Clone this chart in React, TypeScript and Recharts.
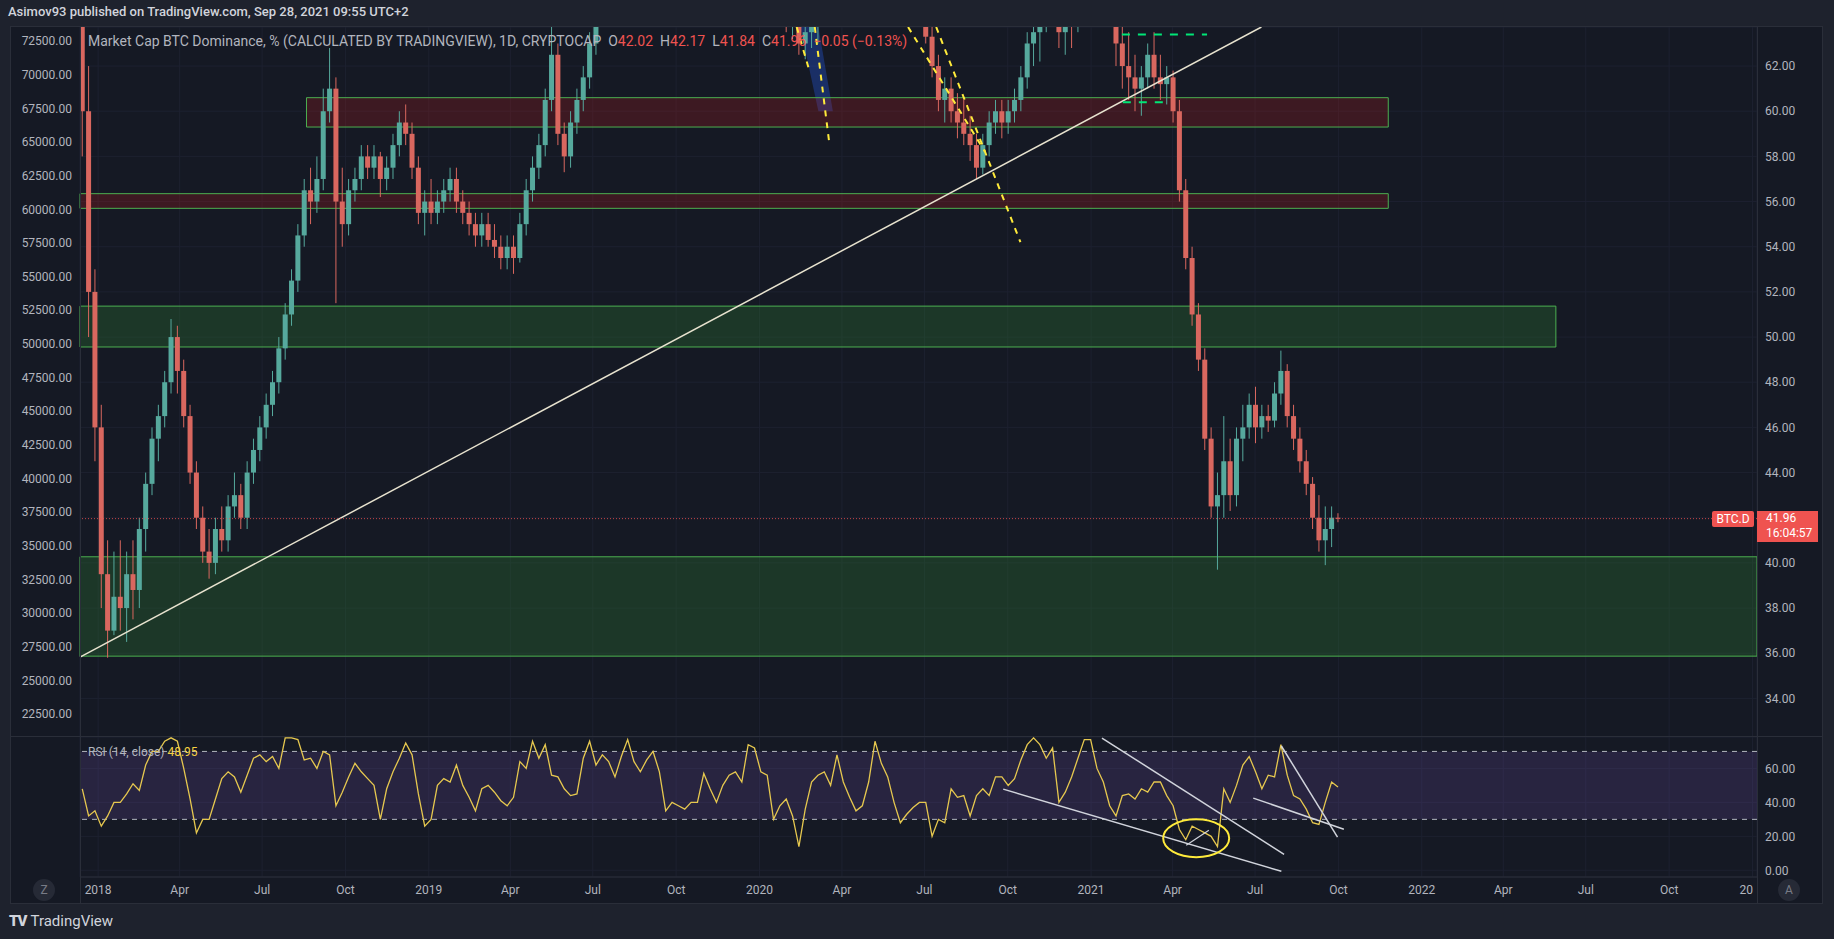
import React from "react";
import {
  ComposedChart,
  Bar,
  Area,
  Line,
  XAxis,
  YAxis,
  CartesianGrid,
  ReferenceArea,
  ReferenceLine,
  ReferenceDot,
} from "recharts";

const FONT = "Roboto, 'Liberation Sans', sans-serif";
const PAGE = "#1e222d";
const BG = "#151924";
const BORDER = "#2a2e39";
const GRID = "#1d2130";
const TEXT = "#b2b5be";
const UP = "#56a99d";
const DOWN = "#d9675f";
const RED = "#ef5350";
const BODY_W = 5;

// days counted from 1 Jan 2018; weekly candles start Mon 11 Dec 2017
const FIRST_WEEK_DAY = -21;
const X_DOMAIN = [-20, 1831];

const MONTH_DAYS = [0, 90, 181, 273, 365, 455, 546, 638, 730, 821, 912, 1004, 1096, 1186, 1277, 1369, 1461, 1551, 1642, 1734, 1826];
const MONTH_LABELS = ["2018", "Apr", "Jul", "Oct", "2019", "Apr", "Jul", "Oct", "2020", "Apr", "Jul", "Oct", "2021", "Apr", "Jul", "Oct", "2022", "Apr", "Jul", "Oct", "2023"];

const LEFT_TICKS = [22500, 25000, 27500, 30000, 32500, 35000, 37500, 40000, 42500, 45000, 47500, 50000, 52500, 55000, 57500, 60000, 62500, 65000, 67500, 70000, 72500];
const RIGHT_TICKS = [34, 36, 38, 40, 42, 44, 46, 48, 50, 52, 54, 56, 58, 60, 62];
const RSI_TICKS = [0, 20, 40, 60];

// BTC dominance, weekly OHLC
const OPEN = [
  64.5, 60, 52, 46, 39.5, 37, 38.5, 38, 39.5, 38.8, 41.5, 43.5, 45.5, 46.5, 48, 50, 48.5, 46.5, 44, 42,
  40.5, 40, 41.5, 41, 42.5, 43, 42, 44, 45, 46, 47, 48, 49.5, 51, 52.5, 54.5, 56.5, 56, 57, 60,
  61, 56, 55, 56.5, 57, 58, 57.5, 58, 57, 57.5, 58.5, 59.5, 59, 57.5, 55.5, 56, 55.5, 56, 56.5, 57,
  56, 55.5, 55, 54.5, 55, 54.3, 54, 53.5, 54, 53.5, 55, 56.5, 57.5, 58.5, 60.5, 62.5, 59, 58, 59.5, 60.5,
  61.5, 63, 65, 66, 67, 68, 67.5, 68.5, 69, 70, 69.5, 70, 70.5, 70, 69, 68.5, 68, 68.5, 67.5, 67,
  67.5, 68, 68, 68.5, 69, 69, 68.5, 68, 67.5, 66.5, 65.5, 65, 64, 64.5, 63, 63.5, 63.8, 65.5, 66.5, 67,
  66.5, 66, 66.5, 67.5, 68, 67.5, 66.5, 66, 65.5, 65.5, 65.8, 65.5, 65, 64.5, 63.3, 62, 60.5, 61, 60, 59.5,
  59, 58.5, 57.5, 58.5, 59.5, 60, 59.5, 60, 60.5, 61.5, 63, 63.5, 63.8, 65.5, 65, 63.5, 64, 63.8, 65.5, 66.5,
  67, 67.5, 66, 64.5, 63, 62, 61.5, 61, 61.5, 62.5, 61.5, 61.2, 61.5, 60, 56.5, 53.5, 51, 49, 45.5, 42.5,
  43, 44.5, 43, 45.5, 46, 47, 46, 46.5, 46.3, 47.5, 48.5, 46.5, 45.5, 44.5, 43.5, 42, 41, 41.5, 42,
];
const HIGH = [
  65.5, 62, 53, 47, 41, 40.5, 41, 40.5, 41, 42, 44, 46, 47, 48.5, 50.8, 50.5, 49, 47, 44.5, 42.5,
  41.5, 42, 42.5, 43, 44, 43.5, 44.5, 45.5, 46.5, 47.5, 48.5, 50, 51.5, 53, 55, 57, 57.5, 58, 61, 62.8,
  61.5, 57.5, 57, 57.5, 58.5, 58.5, 58.5, 58.2, 58, 59, 60, 60.3, 59.5, 58, 56.5, 57, 56.5, 57, 57.5, 57.5,
  56.5, 56, 55.5, 55.5, 55.5, 55, 54.5, 54.5, 54.5, 55.5, 57, 58, 59, 61, 64, 63, 59.5, 60, 61, 62,
  63.5, 66, 66.5, 67.5, 68.5, 68.5, 69, 69.5, 70.5, 70.5, 70.5, 71, 71, 70.5, 69.5, 69, 69, 69, 68, 68,
  68.5, 68.5, 69, 69.5, 69.5, 69.5, 69, 68.5, 68, 67, 66, 65.5, 65, 65, 64, 64, 66, 67, 67.5, 67.5,
  67, 67, 68, 68.5, 68.5, 68, 67, 66.5, 66, 66.5, 66.5, 66, 65.5, 65, 63.8, 62.5, 61.5, 61.5, 60.8, 60.5,
  59.8, 59, 59, 60, 60.5, 60.5, 60.5, 61, 62, 63.5, 64.5, 64, 66, 66, 65.5, 64.5, 64.5, 66, 67, 67.5,
  68, 68, 66.5, 65, 64, 63.5, 62.5, 62, 63, 63.5, 62.5, 62, 61.8, 60.5, 57, 54, 51.5, 49.5, 46, 44,
  46.5, 45.5, 46, 47, 47.5, 47.8, 47, 47, 48, 49.4, 48.8, 47, 46, 45, 43.8, 43, 42.5, 42.5, 42.2,
];
const LOW = [
  58, 50, 44.5, 38, 35.8, 36.8, 37, 36.5, 37.5, 38, 40.5, 43, 44.5, 46, 47.5, 47.5, 46, 43.5, 41.5, 40,
  39.3, 39.5, 40.5, 40.5, 42, 41.5, 41.5, 43.5, 44.5, 45.5, 46.5, 47.5, 49, 50.5, 52, 54, 55, 55.5, 56.5, 59.5,
  51.5, 54, 54.5, 56, 56.5, 57, 57, 56.2, 56.5, 57, 58, 58.5, 57, 55, 54.5, 55, 55, 55.5, 56, 55.5,
  55, 54.5, 54, 54, 54, 53.5, 53, 53, 52.8, 53.3, 54.5, 56, 57, 58, 60, 58.5, 57.3, 57.5, 59, 60,
  61, 62.5, 64.5, 65.5, 66.5, 67, 67, 68, 68.5, 69, 69, 69.5, 69.5, 68.5, 68, 67.5, 67.5, 67, 66.5, 66.5,
  67, 67.5, 67.5, 68, 68.5, 68, 67.5, 67, 66, 65, 64.5, 63.5, 63.2, 62.5, 62.3, 62.8, 63, 65, 66, 66,
  65.5, 65.5, 66, 67, 67, 66, 65.5, 65, 65, 65, 65, 64.5, 64, 63, 61.5, 60, 59.5, 59.5, 58.8, 58.5,
  57.8, 57, 57.2, 58, 59, 58.8, 59, 59.5, 60, 61, 62, 62.2, 63.5, 64.5, 62.8, 62.5, 62.8, 63.5, 65, 66,
  66.5, 65.5, 64, 62, 61, 60.5, 60, 59.8, 61, 61, 60.5, 60.3, 59.5, 56, 53, 50.5, 48.5, 45, 42, 39.7,
  42, 42.3, 42.5, 44.5, 45.5, 45.3, 45.5, 45.8, 46, 47, 46, 45, 44, 43, 41.5, 40.5, 39.9, 40.7, 41.8,
];
const CLOSE = [
  60, 52, 46, 39.5, 37, 38.5, 38, 39.5, 38.8, 41.5, 43.5, 45.5, 46.5, 48, 50, 48.5, 46.5, 44, 42, 40.5,
  40, 41.5, 41, 42.5, 43, 42, 44, 45, 46, 47, 48, 49.5, 51, 52.5, 54.5, 56.5, 56, 57, 60, 61,
  56, 55, 56.5, 57, 58, 57.5, 58, 57, 57.5, 58.5, 59.5, 59, 57.5, 55.5, 56, 55.5, 56, 56.5, 57, 56,
  55.5, 55, 54.5, 55, 54.3, 54, 53.5, 54, 53.5, 55, 56.5, 57.5, 58.5, 60.5, 62.5, 59, 58, 59.5, 60.5, 61.5,
  63, 65, 66, 67, 68, 67.5, 68.5, 69, 70, 69.5, 70, 70.5, 70, 69, 68.5, 68, 68.5, 67.5, 67, 67.5,
  68, 68, 68.5, 69, 69, 68.5, 68, 67.5, 66.5, 65.5, 65, 64, 64.5, 63, 63.5, 63.8, 65.5, 66.5, 67, 66.5,
  66, 66.5, 67.5, 68, 67.5, 66.5, 66, 65.5, 65.5, 65.8, 65.5, 65, 64.5, 63.3, 62, 60.5, 61, 60, 59.5, 59,
  58.5, 57.5, 58.5, 59.5, 60, 59.5, 60, 60.5, 61.5, 63, 63.5, 63.8, 65.5, 65, 63.5, 64, 63.8, 65.5, 66.5, 67,
  67.5, 66, 64.5, 63, 62, 61.5, 61, 61.5, 62.5, 61.5, 61.2, 61.5, 60, 56.5, 53.5, 51, 49, 45.5, 42.5, 43,
  44.5, 43, 45.5, 46, 47, 46, 46.5, 46.3, 47.5, 48.5, 46.5, 45.5, 44.5, 43.5, 42, 41, 41.5, 42, 41.96,
];
// RSI(14), one reading per week
const RSI = [
  48, 32, 35, 26, 32, 40, 40, 45, 51, 47, 62, 70, 70, 76, 78, 76, 60, 42, 22, 30,
  30, 42, 54, 58, 55, 46, 56, 66, 68, 64, 67, 60, 78, 78, 77, 65, 66, 60, 70, 68,
  38, 46, 55, 63, 58, 54, 50, 30, 48, 58, 66, 75, 68, 45, 26, 30, 50, 54, 52, 62,
  50, 43, 35, 48, 50, 46, 41, 38, 43, 64, 60, 76, 66, 74, 56, 55, 48, 44, 45, 66,
  76, 62, 68, 64, 55, 67, 77, 64, 58, 65, 70, 58, 35, 40, 38, 36, 40, 40, 57, 48,
  40, 50, 56, 58, 52, 74, 72, 58, 56, 30, 38, 42, 32, 14, 36, 52, 56, 58, 50, 68,
  52, 43, 35, 38, 52, 76, 63, 55, 40, 28, 33, 37, 40, 40, 20, 30, 28, 48, 43, 44,
  32, 44, 48, 44, 55, 55, 50, 54, 65, 74, 78, 74, 66, 72, 40, 46, 55, 66, 77, 77,
  60, 52, 38, 32, 44, 45, 42, 48, 46, 52, 52, 44, 38, 24, 18, 26, 24, 22, 20, 14,
  48, 40, 50, 62, 67, 58, 48, 56, 55, 74, 56, 44, 42, 36, 28, 27, 40, 52, 49,
];

// shaded channel between the Feb 2020 dashed lines
const CHANNEL_DAYS = [775, 795, 811];
const CHANNEL_LOW = [63.73, 60.0, 60.0];
const CHANNEL_HIGH = [63.73, 63.73, 60.0];

const weeks = OPEN.map((o, i) => ({
  x: FIRST_WEEK_DAY + 7 * i + 3.5,
  o,
  h: HIGH[i],
  l: LOW[i],
  c: CLOSE[i],
  range: [LOW[i], HIGH[i]],
  rsi: RSI[i],
}));

const channel = CHANNEL_DAYS.map((x, i) => ({ x, band: [CHANNEL_LOW[i], CHANNEL_HIGH[i]] }));

const Candle = (p: any) => {
  const { x, y, width, height, payload } = p;
  if (!payload || payload.o == null || !isFinite(y) || !isFinite(height)) return null;
  const { o, h, l, c } = payload;
  const span = h - l || 1;
  const yv = (v: number) => y + ((h - v) / span) * height;
  const col = c >= o ? UP : DOWN;
  const top = yv(Math.max(o, c));
  const bot = yv(Math.min(o, c));
  const cx = x + width / 2;
  return (
    <g>
      <line x1={cx} x2={cx} y1={y} y2={y + height} stroke={col} strokeWidth={1} />
      <rect x={cx - BODY_W / 2} y={top} width={BODY_W} height={Math.max(1, bot - top)} fill={col} />
    </g>
  );
};

const MonthTick = (p: any) => {
  const { x, y, payload } = p;
  const idx = MONTH_DAYS.indexOf(payload.value);
  const label = MONTH_LABELS[idx];
  if (label === "2023") {
    return (
      <text x={x - 13} y={y} dy={9} textAnchor="start" fill={TEXT} fontSize={12} fontFamily={FONT}>20</text>
    );
  }
  return (
    <text x={x} y={y} dy={9} textAnchor="middle" fill={TEXT} fontSize={12} fontFamily={FONT}>{label}</text>
  );
};

const tickStyle = { fill: TEXT, fontSize: 12, fontFamily: FONT };

const lineDiv = (style: React.CSSProperties) => (
  <div style={{ position: "absolute", background: BORDER, ...style }} />
);

const ohlc = (k: string, v: string) => (
  <span style={{ marginLeft: 7 }}>
    {k}<span style={{ color: RED }}>{v}</span>
  </span>
);

export default function App() {
  return (
    <div style={{ position: "absolute", left: 0, top: 0, width: 1834, height: 939, background: PAGE, overflow: "hidden", fontFamily: FONT }}>
      <div style={{ position: "absolute", left: 8, top: 4, fontSize: 13, fontWeight: 500, color: "#d1d4dc", whiteSpace: "nowrap" }}>
        Asimov93 published on TradingView.com, Sep 28, 2021 09:55 UTC+2
      </div>

      <div style={{ position: "absolute", left: 10, top: 27, width: 1813, height: 876, background: BG }} />

      {/* price panel */}
      <div style={{ position: "absolute", left: 10, top: 27 }}>
        <ComposedChart width={1813} height={710} data={weeks} margin={{ top: 0, right: 0, bottom: 0, left: 0 }}>
          <CartesianGrid yAxisId="r" stroke={GRID} />
          <XAxis type="number" dataKey="x" domain={X_DOMAIN} ticks={MONTH_DAYS} allowDataOverflow hide />
          <YAxis yAxisId="l" orientation="left" width={70} domain={[20791, 73540]} ticks={LEFT_TICKS} interval={0}
            allowDataOverflow axisLine={false} tickLine={false} tick={tickStyle} tickFormatter={(v: number) => v.toFixed(2)} />
          <YAxis yAxisId="r" orientation="right" width={66} domain={[32.29, 63.73]} ticks={RIGHT_TICKS} interval={0}
            allowDataOverflow axisLine={false} tickLine={false} tick={tickStyle} tickFormatter={(v: number) => v.toFixed(2)} />

          <Bar yAxisId="r" dataKey="range" barSize={5} isAnimationActive={false} shape={(p: any) => <Candle {...p} />} />

          <Area yAxisId="r" data={channel} dataKey="band" type="linear" stroke="none" fill="#2962ff" fillOpacity={0.3} isAnimationActive={false} />

          <ReferenceArea yAxisId="r" x1={230} x2={1424} y1={59.3} y2={60.6} fill="#b71c1c" fillOpacity={0.25} stroke="#4caf50" strokeWidth={1} />
          <ReferenceArea yAxisId="r" x1={-20} x2={1424} y1={55.7} y2={56.35} fill="#b71c1c" fillOpacity={0.25} stroke="#4caf50" strokeWidth={1} />
          <ReferenceArea yAxisId="r" x1={-20} x2={1609} y1={49.56} y2={51.37} fill="#2e7d32" fillOpacity={0.3} stroke="#4caf50" strokeWidth={1} />
          <ReferenceArea yAxisId="r" x1={-20} x2={1831} y1={35.87} y2={40.27} fill="#2e7d32" fillOpacity={0.3} stroke="#4caf50" strokeWidth={1} />

          <ReferenceLine yAxisId="r" segment={[{ x: -20, y: 35.83 }, { x: 1284, y: 63.73 }]} stroke="#e8e3cf" strokeWidth={1.5} />

          <ReferenceLine yAxisId="r" segment={[{ x: 771, y: 63.73 }, { x: 785, y: 61.8 }]} stroke="#ffeb3b" strokeWidth={2} strokeDasharray="6 6" />
          <ReferenceLine yAxisId="r" segment={[{ x: 791, y: 63.73 }, { x: 807, y: 58.6 }]} stroke="#ffeb3b" strokeWidth={2} strokeDasharray="6 6" />
          <ReferenceLine yAxisId="r" segment={[{ x: 894, y: 63.73 }, { x: 979, y: 58.2 }]} stroke="#ffeb3b" strokeWidth={2} strokeDasharray="6 6" />
          <ReferenceLine yAxisId="r" segment={[{ x: 925, y: 63.73 }, { x: 1018, y: 54.2 }]} stroke="#ffeb3b" strokeWidth={2} strokeDasharray="6 6" />

          <ReferenceLine yAxisId="r" segment={[{ x: 1130, y: 63.4 }, { x: 1224, y: 63.4 }]} stroke="#00e676" strokeWidth={2} strokeDasharray="8 8" />
          <ReferenceLine yAxisId="r" segment={[{ x: 1131, y: 60.4 }, { x: 1183, y: 60.4 }]} stroke="#00e676" strokeWidth={2} strokeDasharray="8 8" />

          <ReferenceLine yAxisId="r" y={41.96} stroke={RED} strokeDasharray="1 2" strokeOpacity={0.8} />
        </ComposedChart>
      </div>

      {/* RSI panel + time axis */}
      <div style={{ position: "absolute", left: 10, top: 737 }}>
        <ComposedChart width={1813} height={166} data={weeks} margin={{ top: 0, right: 0, bottom: 0, left: 0 }}>
          <CartesianGrid yAxisId="r" stroke={GRID} />
          <XAxis type="number" dataKey="x" domain={X_DOMAIN} ticks={MONTH_DAYS} interval={0} allowDataOverflow height={26}
            axisLine={{ stroke: BORDER }} tickLine={false} tick={<MonthTick />} />
          <YAxis yAxisId="l" orientation="left" width={70} domain={[0, 1]} tick={false} axisLine={false} tickLine={false} />
          <YAxis yAxisId="r" orientation="right" width={66} domain={[-3.95, 78.5]} ticks={RSI_TICKS} interval={0}
            allowDataOverflow axisLine={false} tickLine={false} tick={tickStyle} tickFormatter={(v: number) => v.toFixed(2)} />

          <ReferenceArea yAxisId="r" y1={30} y2={70} fill="#7e57c2" fillOpacity={0.18} />
          <ReferenceLine yAxisId="r" y={70} stroke="#b2b5be" strokeDasharray="5 5" />
          <ReferenceLine yAxisId="r" y={30} stroke="#b2b5be" strokeDasharray="5 5" />

          <Line yAxisId="r" dataKey="rsi" stroke="#e6c84f" strokeWidth={1.3} dot={false} isAnimationActive={false} />

          <ReferenceLine yAxisId="r" segment={[{ x: 999, y: 47.8 }, { x: 1306, y: -0.6 }]} stroke="#d1d4dc" strokeWidth={1.5} />
          <ReferenceLine yAxisId="r" segment={[{ x: 1108, y: 77.9 }, { x: 1309, y: 9.4 }]} stroke="#d1d4dc" strokeWidth={1.5} />
          <ReferenceLine yAxisId="r" segment={[{ x: 1275, y: 42.5 }, { x: 1375, y: 24.2 }]} stroke="#d1d4dc" strokeWidth={1.5} />
          <ReferenceLine yAxisId="r" segment={[{ x: 1306, y: 73.2 }, { x: 1368, y: 19.5 }]} stroke="#d1d4dc" strokeWidth={1.5} />
          <ReferenceLine yAxisId="r" segment={[{ x: 1201, y: 14.7 }, { x: 1226, y: 23.6 }]} stroke="#d1d4dc" strokeWidth={1.2} />
          <ReferenceDot yAxisId="r" x={1212} y={18.9} r={1}
            shape={(p: any) => <ellipse cx={p.cx} cy={p.cy} rx={33} ry={19} fill="none" stroke="#ffeb3b" strokeWidth={2} />} />
        </ComposedChart>
      </div>

      {/* panel borders */}
      {lineDiv({ left: 10, top: 26, width: 1813, height: 1 })}
      {lineDiv({ left: 10, top: 903, width: 1813, height: 1 })}
      {lineDiv({ left: 10, top: 26, width: 1, height: 878 })}
      {lineDiv({ left: 1822, top: 26, width: 1, height: 878 })}
      {lineDiv({ left: 80, top: 26, width: 1, height: 878 })}
      {lineDiv({ left: 1757, top: 26, width: 1, height: 878 })}
      {lineDiv({ left: 10, top: 736, width: 1813, height: 1 })}

      {/* legends */}
      <div style={{ position: "absolute", left: 88, top: 33, fontSize: 14, color: TEXT, whiteSpace: "nowrap" }}>
        Market Cap BTC Dominance, % (CALCULATED BY TRADINGVIEW), 1D, CRYPTOCAP
        {ohlc("O", "42.02")}
        {ohlc("H", "42.17")}
        {ohlc("L", "41.84")}
        {ohlc("C", "41.96")}
        <span style={{ marginLeft: 7, color: RED }}>−0.05 (−0.13%)</span>
      </div>
      <div style={{ position: "absolute", left: 88, top: 745, fontSize: 12, color: TEXT, whiteSpace: "nowrap" }}>
        RSI (14, close) <span style={{ color: "#f5d142" }}>48.95</span>
      </div>

      {/* last price tags */}
      <div style={{ position: "absolute", left: 1712, top: 511, width: 42, height: 16, background: RED, color: "#fff", fontSize: 12, lineHeight: "16px", textAlign: "center", borderRadius: 2 }}>
        BTC.D
      </div>
      <div style={{ position: "absolute", left: 1757, top: 511, width: 61, height: 31, background: RED, color: "#fff", fontSize: 12, lineHeight: "15px", paddingLeft: 9, boxSizing: "border-box" }}>
        <div>41.96</div>
        <div>16:04:57</div>
      </div>

      {/* scale buttons */}
      <div style={{ position: "absolute", left: 33, top: 879, width: 22, height: 22, borderRadius: 11, background: "#262a36", color: "#787b86", fontSize: 12, lineHeight: "22px", textAlign: "center" }}>Z</div>
      <div style={{ position: "absolute", left: 1778, top: 879, width: 22, height: 22, borderRadius: 11, background: "#262a36", color: "#787b86", fontSize: 12, lineHeight: "22px", textAlign: "center" }}>A</div>

      <div style={{ position: "absolute", left: 9, top: 912, fontSize: 15, color: "#d1d4dc", whiteSpace: "nowrap" }}>
        <span style={{ fontWeight: 900, letterSpacing: -1, marginRight: 4 }}>TV</span>TradingView
      </div>
    </div>
  );
}
